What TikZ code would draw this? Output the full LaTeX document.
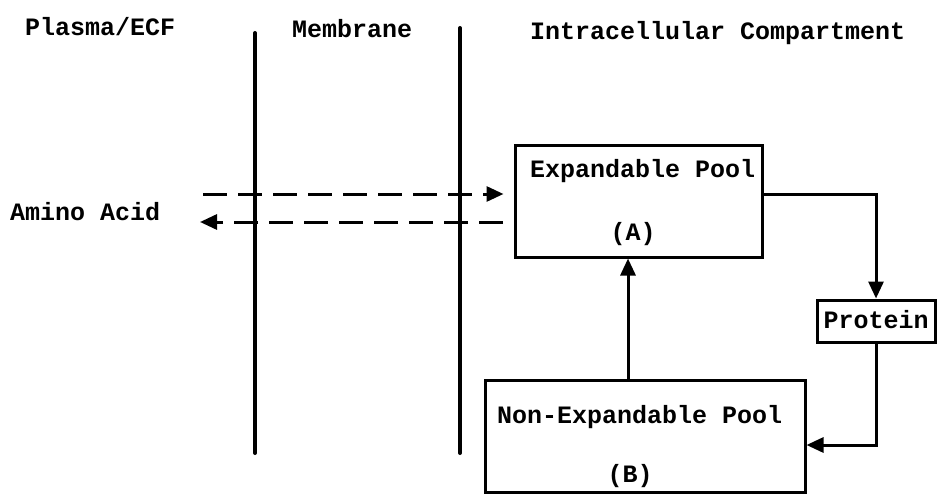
\documentclass[tikz,border=0pt]{standalone}
\usepackage{fontspec}
\setmainfont{Liberation Mono}
\usetikzlibrary{arrows.meta}
\begin{document}
\begin{tikzpicture}[x=1pt,y=-1pt,
  lbl/.style={anchor=base west,inner sep=0pt,font=\fontsize{25}{30}\selectfont\bfseries},
  clbl/.style={anchor=base,inner sep=0pt,font=\fontsize{25}{30}\selectfont\bfseries},
  box/.style={draw,line width=3pt,inner sep=0pt},
  wall/.style={line width=4pt,line cap=round},
  conn/.style={line width=3pt,-{Triangle[length=17pt,width=15pt]}},
  dconn/.style={conn,dash pattern=on 24pt off 11pt}]
\useasboundingbox (0,0) rectangle (942,495);
% headers
\node[lbl] (h1) at (25,36) {Plasma/ECF};
\node[lbl] (h2) at (292,38) {Membrane};
\node[lbl] (h3) at (530,40) {Intracellular Compartment};
\node[lbl] (aa) at (10,220) {Amino Acid};
% membrane walls
\coordinate (w1t) at (255,33);
\coordinate (w1b) at (255,453);
\coordinate (w2t) at (460,28);
\coordinate (w2b) at (460,453);
\draw[wall] (w1t) -- (w1b);
\draw[wall] (w2t) -- (w2b);
% boxes
\node[box,minimum width=247pt,minimum height=112pt] (A) at (638.5,201) {};
\node[lbl] (At) at (530,177) {Expandable Pool};
\node[clbl] (Al) at (633,240) {(A)};
\node[box,minimum width=320pt,minimum height=112pt] (B) at (645,436) {};
\node[lbl] (Bt) at (497,423) {Non-Expandable Pool};
\node[clbl] (Bl) at (630,482) {(B)};
\node[box,minimum width=118pt,minimum height=42pt] (P) at (876,321) {};
\node[clbl] (Pt) at (876,328) {Protein};
% dashed exchange
\coordinate (d1) at (203,194);
\coordinate (d2) at (503,222);
\coordinate (d2e) at (200,222);
\draw[dconn] (d1) -- ([xshift=-10pt]A.west |- d1);
\draw[dconn] (d2) -- (d2e);
% protein loop
\coordinate (r1) at (762,194);
\coordinate (r2) at (876,445);
\draw[conn] (r1) -| (P.north);
\draw[conn] (P.south) |- (B.east |- r2);
% up arrow
\coordinate (vx) at (628,0);
\draw[conn] (B.north -| vx) -- (A.south -| vx);
\end{tikzpicture}
\end{document}
